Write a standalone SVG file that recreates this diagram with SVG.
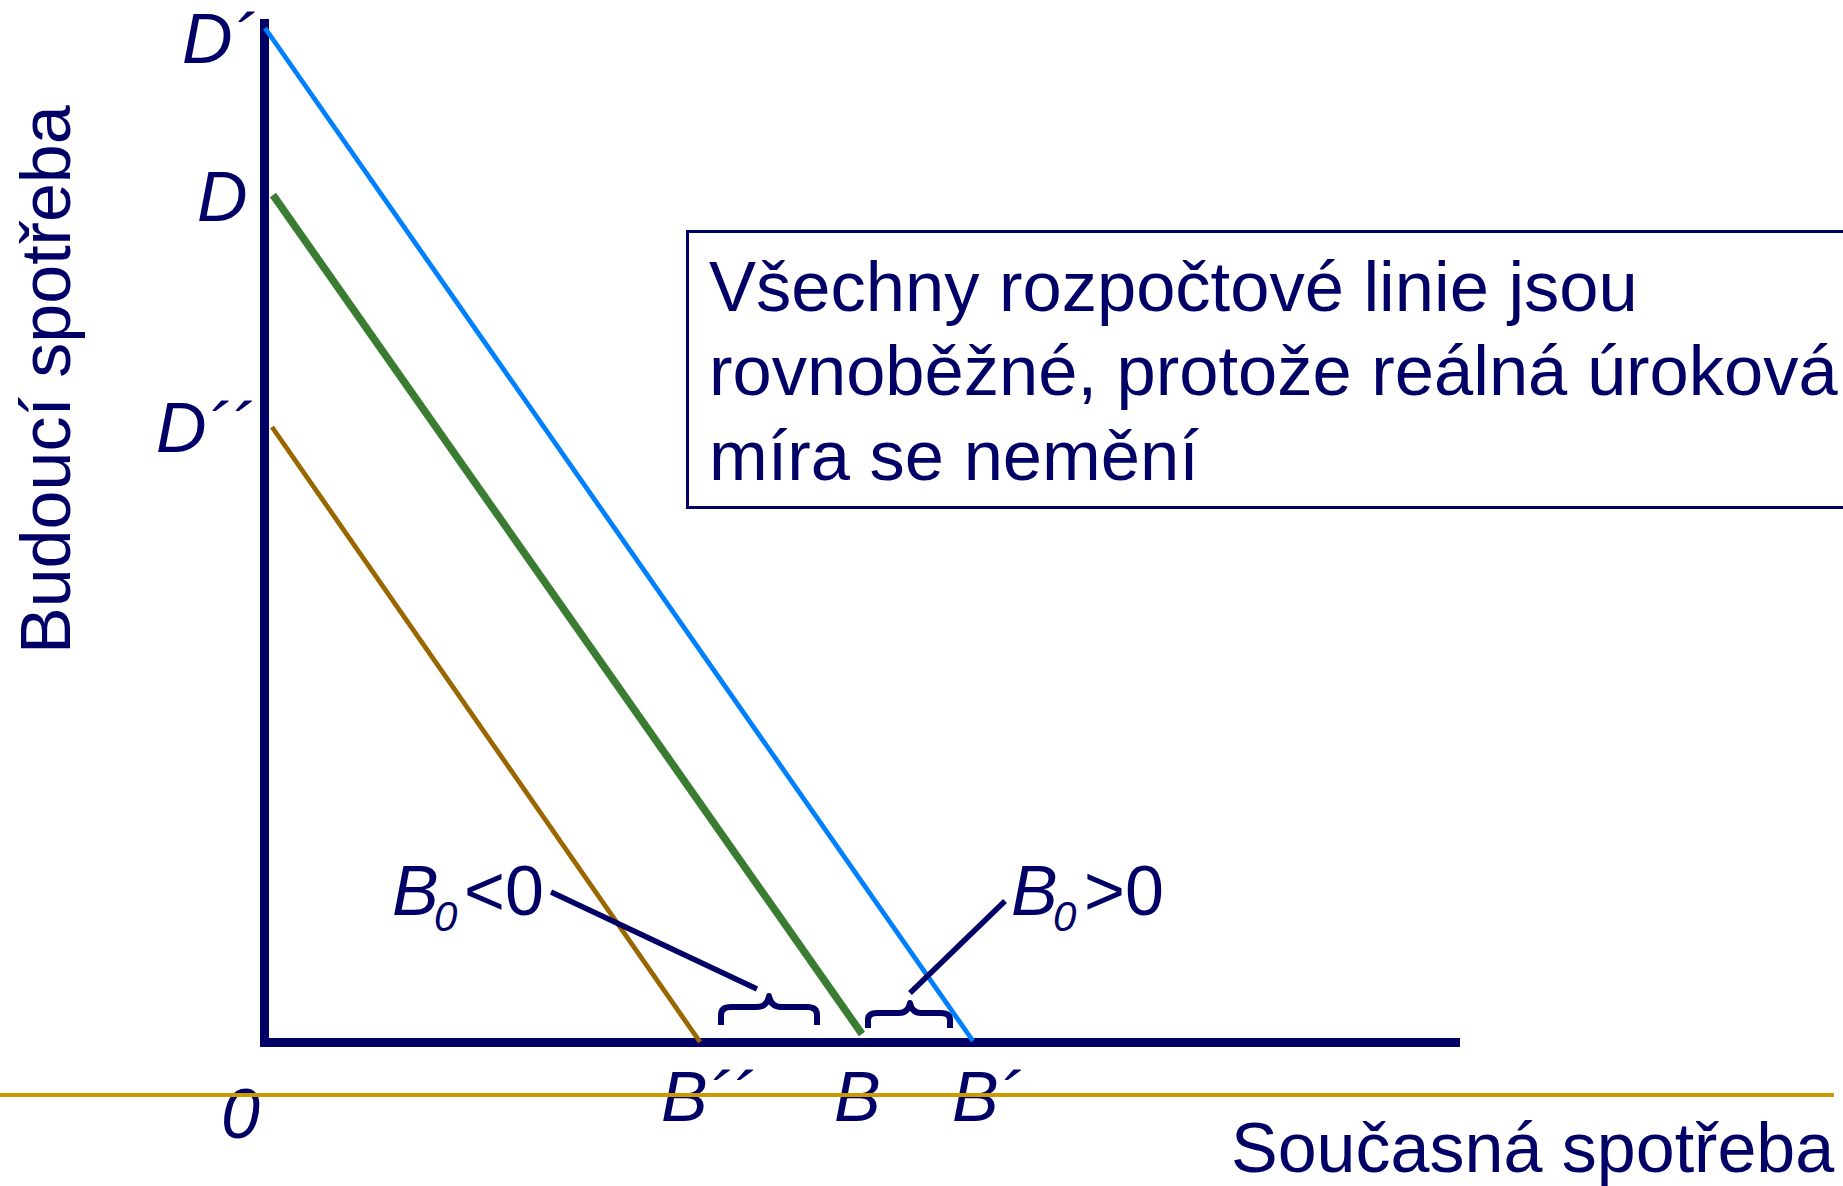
<svg xmlns="http://www.w3.org/2000/svg" width="1843" height="1186" viewBox="0 0 1843 1186">
  <style>
    .t { font-family: "Liberation Sans", Arial, sans-serif; fill: #000066; font-size: 70px; }
    .big { font-size: 70.5px; }
    .i { font-style: italic; }
    .sub { font-size: 42px; font-style: italic; }
    .axis { stroke: #000066; stroke-width: 9; fill: none; }
    .lead { stroke: #000066; stroke-width: 5.5; fill: none; }
    .brace { stroke: #000066; stroke-width: 6; fill: none; stroke-linejoin: round; }
  </style>
  <rect width="1843" height="1186" fill="#ffffff"/>

  <g id="axes">
    <line class="axis" x1="264.5" y1="19" x2="264.5" y2="1047"/>
    <line class="axis" x1="260" y1="1042.5" x2="1460" y2="1042.5"/>
  </g>

  <g id="budget-lines">
    <line id="line-D1" x1="265" y1="28" x2="973" y2="1041" stroke="#0080FF" stroke-width="4.8"/>
    <line id="line-D" x1="273" y1="195" x2="862" y2="1034" stroke="#3A7D32" stroke-width="7.5"/>
    <line id="line-D2" x1="272" y1="427" x2="700" y2="1042" stroke="#996600" stroke-width="4.8"/>
  </g>

  <g id="connectors">
    <line class="lead" x1="551" y1="892" x2="757" y2="989"/>
    <line class="lead" x1="1005" y1="901" x2="910" y2="993"/>
    <path class="brace" d="M721 1025 L721 1015 Q721 1007 731 1007 L757 1007 Q767 1007 769 996 Q771 1007 781 1007 L807 1007 Q817 1007 817 1015 L817 1025"/>
    <path class="brace" d="M868 1028 L868 1020 Q868 1013 877 1013 L899 1013 Q908 1013 910 1003 Q912 1013 921 1013 L941 1013 Q950 1013 950 1020 L950 1028"/>
  </g>

  <g id="label-D1"><text class="t i" x="182" y="63">D´</text></g>
  <g id="label-D"><text class="t i" x="197" y="221">D</text></g>
  <g id="label-D2"><text class="t i" x="156" y="452">D´´</text></g>

  <g id="label-origin"><text class="t i" x="221" y="1138">0</text></g>
  <g id="label-B2"><text class="t i" x="661" y="1121">B´´</text></g>
  <g id="label-B"><text class="t i" x="834" y="1121">B</text></g>
  <g id="label-B1"><text class="t i" x="952" y="1121">B´</text></g>

  <g id="label-B0-neg">
    <text class="t" x="392" y="915"><tspan class="i">B</tspan><tspan class="sub" x="434" y="931">0</tspan><tspan x="464" y="915">&lt;0</tspan></text>
  </g>
  <g id="label-B0-pos">
    <text class="t" x="1011" y="915"><tspan class="i">B</tspan><tspan class="sub" x="1053" y="931">0</tspan><tspan x="1084" y="915">&gt;0</tspan></text>
  </g>

  <g id="note">
    <rect x="687.5" y="231.5" width="1170" height="276" fill="none" stroke="#000066" stroke-width="3"/>
    <text class="t big" x="709" y="311">Všechny rozpočtové linie jsou</text>
    <text class="t big" x="709" y="395">rovnoběžné, protože reálná úroková</text>
    <text class="t big" x="709" y="480">míra se nemění</text>
  </g>

  <g id="y-label"><text class="t" transform="translate(70,654) rotate(-90)">Budoucí spotřeba</text></g>
  <g id="x-label"><text class="t" x="1231" y="1172">Současná spotřeba</text></g>

  <g id="rule">
    <line x1="0" y1="1095" x2="1834" y2="1095" stroke="#CC9900" stroke-width="4"/>
  </g>
</svg>
